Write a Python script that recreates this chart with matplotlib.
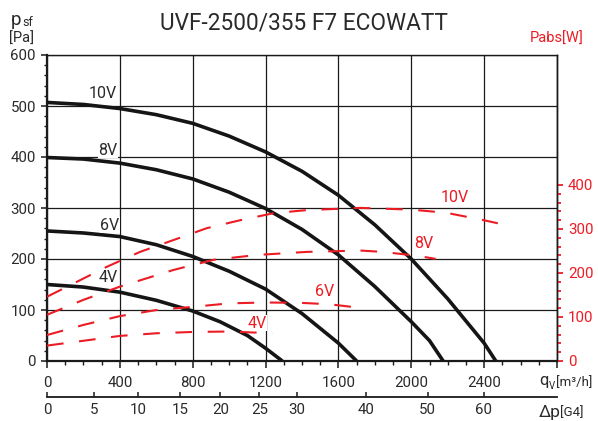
import matplotlib
matplotlib.use("Agg")
import matplotlib.pyplot as plt
from matplotlib.ticker import MultipleLocator, FixedLocator

# ---------------- data ----------------
# pressure curves (psf [Pa] vs qv [m3/h])
q_10v = [0, 200, 400, 600, 800, 1000, 1200, 1400, 1600, 1800, 2000, 2200, 2400, 2464]
p_10v = [507, 503, 495, 483, 466, 441, 410, 372, 325, 267, 200, 122, 35, 0]
q_8v = [0, 200, 400, 600, 800, 1000, 1200, 1400, 1600, 1800, 2000, 2100, 2175]
p_8v = [399, 396, 388, 375, 357, 331, 299, 258, 208, 146, 77, 40, 0]
q_6v = [0, 200, 400, 600, 800, 1000, 1200, 1400, 1600, 1700]
p_6v = [255, 251, 244, 228, 205, 176, 141, 93, 35, 0]
q_4v = [0, 200, 400, 600, 800, 950, 1100, 1200, 1292]
p_4v = [150, 145, 135, 119, 98, 77, 50, 25, 0]

# absorbed power curves (Pabs [W] vs qv [m3/h])
qw_10v = [0, 328, 511, 695, 878, 1061, 1245, 1428, 1722, 2000, 2189, 2376, 2475]
w_10v = [146, 214, 248, 275, 302, 320, 336, 343, 348, 344, 337, 322, 313]
qw_8v = [0, 200, 400, 695, 915, 1153, 1428, 1722, 1842, 2035, 2134]
w_8v = [105, 139, 169, 207, 230, 241, 248, 251, 248, 239, 232]
qw_6v = [0, 200, 400, 603, 800, 1000, 1200, 1400, 1550, 1694]
w_6v = [59, 82, 102, 116, 123, 131, 133, 132, 129, 122]
qw_4v = [0, 200, 400, 600, 800, 1000, 1237]
w_4v = [35, 46, 57, 63, 66, 67, 63]

curve_names = ["10V", "8V", "6V", "4V"]

# second scale: pressure drop of G4 filter, positioned along qv
dp_labels = ["0", "5", "10", "15", "20", "25", "30", "40", "50", "60"]
dp_at_q = [0, 259, 500, 731, 952, 1166, 1370, 1749, 2090, 2398]

x_ticks = [0, 400, 800, 1200, 1600, 2000, 2400]
y_ticks = [0, 100, 200, 300, 400, 500, 600]
w_ticks = [0, 100, 200, 300, 400]

title = "UVF-2500/355 F7 ECOWATT"

# ---------------- style ----------------
W, H = 598, 421
RED = "#ec1c24"
TXT = "#2a2a2a"
FONT = ["Roboto", "DejaVu Sans"]
plt.rcParams["font.family"] = FONT


def fp(x, y):
    return (x / W, 1 - y / H)


fig = plt.figure(figsize=(W / 100, H / 100), dpi=100)
ax = fig.add_axes([47 / W, 60 / H, 510 / W, 306 / H])
ax.set_xlim(0, 2800)
ax.set_ylim(0, 600)

ax.set_xticks(x_ticks + [2800], [str(v) for v in x_ticks] + [""])
ax.xaxis.set_minor_locator(MultipleLocator(100))
ax.set_yticks(y_ticks, [str(v) for v in y_ticks])
ax.yaxis.set_minor_locator(MultipleLocator(20))
ax.grid(True, which="major", color="#1a1a1a", lw=0.9)
ax.set_axisbelow(True)

ax.tick_params(axis="x", which="major", direction="out", length=5, width=1.1,
               pad=6, labelsize=10.8, labelcolor=TXT, color="#1a1a1a")
ax.tick_params(axis="x", which="minor", direction="out", length=3, width=1.0,
               color="#1a1a1a")
ax.tick_params(axis="y", which="major", direction="out", length=4.5, width=1.1,
               pad=3.5, labelsize=10.8, labelcolor=TXT, color="#1a1a1a")
ax.tick_params(axis="y", which="minor", direction="out", length=2.5, width=1.0,
               color="#1a1a1a")
for s in ["left", "bottom"]:
    ax.spines[s].set_linewidth(1.6)
    ax.spines[s].set_color("#1a1a1a")
for s in ["top", "right"]:
    ax.spines[s].set_linewidth(1.0)
    ax.spines[s].set_color("#1a1a1a")

blk = dict(color="#151515", lw=2.6, solid_capstyle="butt",
           solid_joinstyle="round", zorder=3)
ax.plot(q_10v, p_10v, **blk)
ax.plot(q_8v, p_8v, **blk)
ax.plot(q_6v, p_6v, **blk)
ax.plot(q_4v, p_4v, **blk)

lab_kw = dict(fontsize=11.5, color=TXT, ha="center", va="center", zorder=4,
              bbox=dict(boxstyle="square,pad=0.05", fc="white", ec="none"))
black_lab_px = [(103, 93), (108, 150), (110, 225), (108, 278)]
for name, (x, y) in zip(curve_names, black_lab_px):
    fig.text(*fp(x, y), name, **lab_kw)

# power axis
ax2 = ax.twinx()
ax2.set_ylim(0, 306 / 0.44)
for s in ["left", "top", "bottom"]:
    ax2.spines[s].set_visible(False)
ax2.spines["right"].set_color("#1a1a1a")
ax2.spines["right"].set_linewidth(1.0)
ax2.set_yticks(w_ticks, [str(v) for v in w_ticks])
ax2.yaxis.set_minor_locator(FixedLocator([v for v in range(0, 401, 20) if v % 100]))
ax2.tick_params(axis="y", which="major", direction="out", length=4.5, width=1.3,
                pad=3.5, labelsize=10.8, labelcolor=RED, color=RED)
ax2.tick_params(axis="y", which="minor", direction="out", length=2.7, width=1.3,
                color=RED)

red = dict(color=RED, lw=1.5, dashes=(8, 7.5), zorder=5)
ax2.plot(qw_10v, w_10v, **red)
ax2.plot(qw_8v, w_8v, **red)
ax2.plot(qw_6v, w_6v, **red)
ax2.plot(qw_4v, w_4v, **red)

red_lab_px = [(455, 197), (424, 243), (325, 291), (257, 323)]
rlab_kw = dict(lab_kw)
rlab_kw["color"] = RED
for name, (x, y) in zip(curve_names, red_lab_px):
    fig.text(*fp(x, y), name, **rlab_kw)

# second x scale (filter pressure drop)
sec = ax.secondary_xaxis((361 - 397) / 306)
sec.set_xticks(dp_at_q, dp_labels)
sec.spines["bottom"].set_linewidth(1.3)
sec.spines["bottom"].set_color("#1a1a1a")
sec.tick_params(axis="x", direction="in", length=3.5, width=1.1, pad=4,
                labelsize=10.8, labelcolor=TXT, color="#1a1a1a")

# title and axis captions
fig.text(*fp(304, 23), title, fontsize=16.3, color=TXT, ha="center", va="center")
fig.text(*fp(11, 25), "p", fontsize=13.5, color=TXT, ha="left", va="baseline")
fig.text(*fp(22.5, 26.5), "sf", fontsize=9, color=TXT, ha="left", va="baseline")
fig.text(*fp(9, 38.5), "[Pa]", fontsize=10.5, color=TXT, ha="left", va="center")
fig.text(*fp(530, 39), "Pabs[W]", fontsize=10.5, color=RED, ha="left", va="center")

fig.text(*fp(539, 385.5), "q", fontsize=12, color=TXT, ha="left", va="baseline")
fig.text(*fp(549, 389), "V", fontsize=7, color=TXT, ha="left", va="baseline")
fig.text(*fp(556, 386.5), "[m³/h]", fontsize=9.5, color=TXT, ha="left", va="baseline")
fig.text(*fp(539, 416.5), "Δp", fontsize=12.5, color=TXT, ha="left", va="baseline")
fig.text(*fp(560, 416.5), "[G4]", fontsize=9.5, color=TXT, ha="left", va="baseline")

fig.savefig("out.png", dpi=100, facecolor="white")
